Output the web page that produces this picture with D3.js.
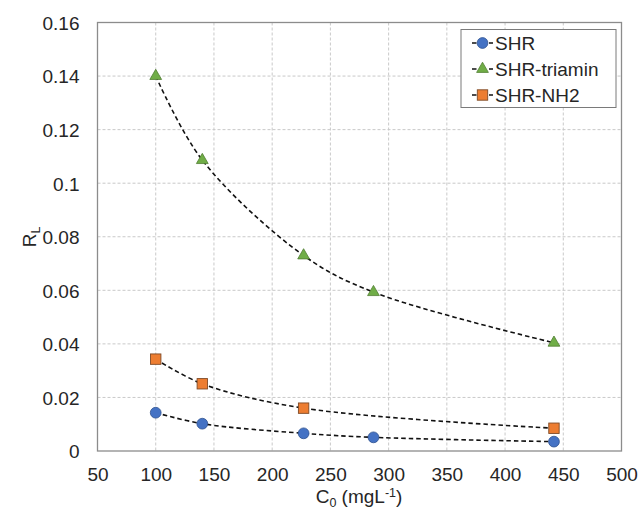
<!DOCTYPE html>
<html>
<head>
<meta charset="utf-8">
<script src="https://cdn.jsdelivr.net/npm/d3@7"></script>
<style>
  html, body { margin: 0; padding: 0; background: #fff; }
  svg { display: block; font-family: "Liberation Sans", Arial, sans-serif; }
</style>
</head>
<body>
<svg id="chart" width="640" height="511"></svg>
<script>
// Initial concentration C0 (mg/L) for each sample
const c0Shr = [100, 140, 227, 287, 442];
const c0Triamin = [100, 140, 227, 287, 442];
const c0Nh2 = [100, 140, 227, 442];

// Separation factor RL
const rlShr = [0.0143, 0.0102, 0.0066, 0.0051, 0.0035];
const rlTriamin = [0.1400, 0.1086, 0.0730, 0.0593, 0.0404];
const rlNh2 = [0.0343, 0.0251, 0.0160, 0.0085];

const seriesNames = ["SHR", "SHR-triamin", "SHR-NH2"];
const xTicks = [50, 100, 150, 200, 250, 300, 350, 400, 450, 500];
const yTicks = [0, 0.02, 0.04, 0.06, 0.08, 0.1, 0.12, 0.14, 0.16];

const series = [
  { name: seriesNames[0], xs: c0Shr, ys: rlShr, shape: "circle", fill: "#4472C4", stroke: "#2F528F" },
  { name: seriesNames[1], xs: c0Triamin, ys: rlTriamin, shape: "triangle", fill: "#70AD47", stroke: "#507E32" },
  { name: seriesNames[2], xs: c0Nh2, ys: rlNh2, shape: "square", fill: "#ED7D31", stroke: "#AE5A21" }
];

const FS = 19;
const TXT = "#262626";
const svg = d3.select("#chart");
const plotL = 97.5, plotR = 621.5, plotT = 22.5, plotB = 451;

const x = d3.scaleLinear().domain([50, 500]).range([plotL, plotR]);
const y = d3.scaleLinear().domain([0, 0.16]).range([plotB, plotT]);

// grid
const grid = svg.append("g");
grid.selectAll("line.v").data(xTicks.slice(1, -1)).join("line")
  .attr("x1", d => x(d)).attr("x2", d => x(d))
  .attr("y1", plotT).attr("y2", plotB)
  .attr("stroke", "#c9c9c9").attr("stroke-width", 1).attr("stroke-dasharray", "3,2");
grid.selectAll("line.h").data(yTicks.slice(1, -1)).join("line")
  .attr("x1", plotL).attr("x2", plotR)
  .attr("y1", d => y(d)).attr("y2", d => y(d))
  .attr("stroke", "#c9c9c9").attr("stroke-width", 1).attr("stroke-dasharray", "3,2");

// axes
const xAxis = d3.axisBottom(x).tickValues(xTicks).tickSize(0).tickPadding(30).tickFormat(d3.format("d"));
const yAxis = d3.axisLeft(y).tickValues(yTicks).tickSize(0).tickPadding(18).tickFormat(d => d === 0 ? "0" : String(+d.toFixed(2)));

const gx = svg.append("g").attr("transform", `translate(0,${plotB})`).call(xAxis);
const gy = svg.append("g").attr("transform", `translate(${plotL},0)`).call(yAxis);
[gx, gy].forEach(g => {
  g.select(".domain").remove();
  g.selectAll("text").attr("font-size", FS).attr("fill", TXT)
    .attr("font-family", "Liberation Sans, Arial, sans-serif");
});
gx.selectAll("text").attr("dy", 0);
gy.selectAll("text").attr("dy", "0.36em");

// plot border
svg.append("rect")
  .attr("x", plotL).attr("y", plotT)
  .attr("width", plotR - plotL).attr("height", plotB - plotT)
  .attr("fill", "none").attr("stroke", "#8c8c8c").attr("stroke-width", 1.3);

// lines
const line = d3.line().x(d => x(d[0])).y(d => y(d[1])).curve(d3.curveCatmullRom.alpha(0.5));
series.forEach(s => {
  const pts = s.xs.map((v, i) => [v, s.ys[i]]);
  svg.append("path").datum(pts)
    .attr("d", line)
    .attr("fill", "none").attr("stroke", "#111")
    .attr("stroke-width", 1.6).attr("stroke-dasharray", "4.5,3");
});

function drawMarker(g, shape, cx, cy, fill, stroke) {
  if (shape === "circle") {
    g.append("circle").attr("cx", cx).attr("cy", cy).attr("r", 5.4)
      .attr("fill", fill).attr("stroke", stroke).attr("stroke-width", 0.8);
  } else if (shape === "square") {
    g.append("rect").attr("x", cx - 5.2).attr("y", cy - 5.2).attr("width", 10.4).attr("height", 10.4)
      .attr("fill", fill).attr("stroke", "#7f4a26").attr("stroke-width", 0.9);
  } else {
    const sym = d3.symbol().type(d3.symbolTriangle).size(60);
    g.append("path").attr("d", sym()).attr("transform", `translate(${cx},${cy})`)
      .attr("fill", fill).attr("stroke", stroke).attr("stroke-width", 0.8);
  }
}

// markers
series.forEach(s => {
  const g = svg.append("g");
  s.xs.forEach((v, i) => drawMarker(g, s.shape, x(v), y(s.ys[i]), s.fill, s.stroke));
});

// legend
const lg = svg.append("g");
lg.append("rect").attr("x", 461).attr("y", 29.5).attr("width", 155).attr("height", 78)
  .attr("fill", "#fff").attr("stroke", "#7a7a7a").attr("stroke-width", 1);
series.forEach((s, i) => {
  const cy = 43 + i * 26;
  lg.append("line").attr("x1", 472).attr("x2", 493).attr("y1", cy).attr("y2", cy)
    .attr("stroke", "#111").attr("stroke-width", 1.6).attr("stroke-dasharray", "4.5,12.5");
  drawMarker(lg, s.shape, 482.5, cy, s.fill, s.stroke);
  lg.append("text").attr("x", 495).attr("y", cy).attr("dy", "0.36em")
    .attr("font-size", FS).attr("fill", TXT).text(s.name);
});

// axis titles
const xt = svg.append("text").attr("x", 359).attr("y", 503).attr("text-anchor", "middle")
  .attr("font-size", FS).attr("fill", TXT);
xt.append("tspan").text("C");
xt.append("tspan").attr("font-size", 12.5).attr("dy", 3.5).text("0");
xt.append("tspan").attr("dy", -3.5).text(" (mgL");
xt.append("tspan").attr("font-size", 12.5).attr("dy", -6).text("-1");
xt.append("tspan").attr("dy", 6).text(")");

const yt = svg.append("text").attr("transform", "translate(36,237) rotate(-90)")
  .attr("text-anchor", "middle").attr("font-size", FS).attr("fill", TXT);
yt.append("tspan").text("R");
yt.append("tspan").attr("font-size", 12.5).attr("dy", 4).text("L");
</script>
</body>
</html>
